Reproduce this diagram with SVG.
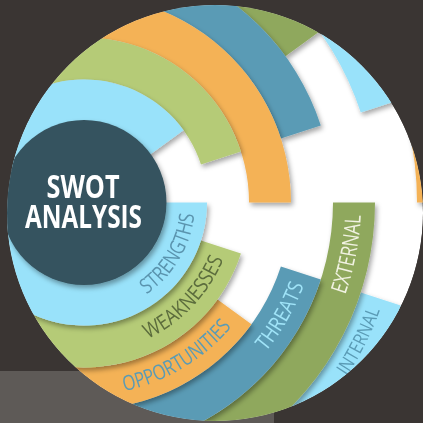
<svg xmlns="http://www.w3.org/2000/svg" width="423" height="423" viewBox="0 0 423 423">
  <defs>
    <clipPath id="clip"><circle cx="215" cy="213" r="208"/></clipPath>
    <filter id="sh" x="-20%" y="-20%" width="140%" height="140%">
      <feDropShadow dx="2" dy="3" stdDeviation="2.5" flood-color="#000" flood-opacity="0.35"/>
    </filter>
    <path id="pS" d="M146.07,294.52 A111,111 0 0 0 194.39,214.10"/>
    <path id="pW" d="M147.60,338.90 A150.5,150.5 0 0 0 223.54,258.88"/>
    <path id="pO" d="M124.13,391.28 A193,193 0 0 0 231.85,326.56"/>
    <path id="pT" d="M265.33,351.98 A235,235 0 0 0 304.12,284.80"/>
    <path id="pE" d="M345.11,294.97 A277,277 0 0 0 360.72,215.07"/>
    <path id="pI" d="M346.67,376.36 A315,315 0 0 0 380.00,310.24"/>
    <style>
      .lb{fill:#99e2fa}
      .gr{fill:#b5cb77}
      .or{fill:#f4b256}
      .bl{fill:#5a9bb5}
      .ol{fill:#8fa85d}
      .ring{filter:url(#sh)}
      .lab{font-family:"Open Sans","Liberation Sans",sans-serif;font-size:21px;font-weight:400}
      .title{font-family:"Open Sans","Liberation Sans",sans-serif;font-size:32px;font-weight:700;fill:#ffffff}
    </style>
  </defs>
  <rect x="0" y="0" width="423" height="423" fill="#3a3533"/>
  <rect x="0" y="371" width="274" height="52" fill="#5e5a57"/>
  <g clip-path="url(#clip)">
    <circle cx="215" cy="213" r="208" fill="#ffffff"/>
    <g id="ring-outer-orange" class="ring">
      <path class="or" d="M387.381,422.919 A375,375 0 1 1 459,202.5 L417,202.5 A333,333 0 1 0 353.403,398.232 Z"/>
    </g>
    <g id="internal" class="ring">
      <path class="lb" d="M400.702,305.403 A333,333 0 1 1 400.702,99.597 L360.758,112.576 A291,291 0 1 0 360.758,292.424 Z"/>
      <text class="lab" fill="#5a9bb5" style="font-size:19px"><textPath href="#pI" startOffset="50%" text-anchor="middle" textLength="74" lengthAdjust="spacingAndGlyphs">INTERNAL</textPath></text>
    </g>
    <g id="external" class="ring">
      <path class="ol" d="M375,202.5 A291,291 0 1 1 319.424,31.455 L285.445,56.142 A249,249 0 1 0 333,202.5 Z"/>
      <text class="lab" fill="#f1f2e2" style="font-size:22px"><textPath href="#pE" startOffset="50%" text-anchor="middle" textLength="81" lengthAdjust="spacingAndGlyphs">EXTERNAL</textPath></text>
    </g>
    <g id="threats" class="ring">
      <path class="bl" d="M320.813,279.445 A249,249 0 1 1 320.813,125.555 L280.869,138.533 A207,207 0 1 0 280.869,266.467 Z"/>
      <text class="lab" fill="#a0e4f8"><textPath href="#pT" startOffset="50%" text-anchor="middle" textLength="77" lengthAdjust="spacingAndGlyphs">THREATS</textPath></text>
    </g>
    <g id="opportunities" class="ring">
      <path class="or" d="M251.467,324.171 A207,207 0 1 1 291,202.5 L249,202.5 A165,165 0 1 0 217.488,299.485 Z"/>
      <text class="lab" fill="#5a9bb5"><textPath href="#pO" startOffset="50%" text-anchor="middle" textLength="127" lengthAdjust="spacingAndGlyphs">OPPORTUNITIES</textPath></text>
    </g>
    <g id="weaknesses" class="ring">
      <path class="gr" d="M240.924,253.488 A165,165 0 1 1 240.924,151.512 L200.980,164.491 A123,123 0 1 0 200.980,240.509 Z"/>
      <text class="lab" fill="#5b6c3c"><textPath href="#pW" startOffset="50%" text-anchor="middle" textLength="112" lengthAdjust="spacingAndGlyphs">WEAKNESSES</textPath></text>
    </g>
    <g id="strengths" class="ring">
      <path class="lb" d="M207,202.5 A123,123 0 1 1 183.509,130.202 L148.721,155.477 A80,80 0 1 0 164,202.5 Z"/>
      <text class="lab" fill="#5a94ae"><textPath href="#pS" startOffset="50%" text-anchor="middle" textLength="96" lengthAdjust="spacingAndGlyphs">STRENGTHS</textPath></text>
    </g>
    <g id="swot" class="ring">
      <circle cx="84" cy="202.5" r="82.5" fill="#35535f"/>
      <text class="title" x="83" y="198" text-anchor="middle" textLength="73" lengthAdjust="spacingAndGlyphs">SWOT</text>
      <text class="title" x="83.5" y="228" text-anchor="middle" textLength="117" lengthAdjust="spacingAndGlyphs">ANALYSIS</text>
    </g>
  </g>
</svg>
